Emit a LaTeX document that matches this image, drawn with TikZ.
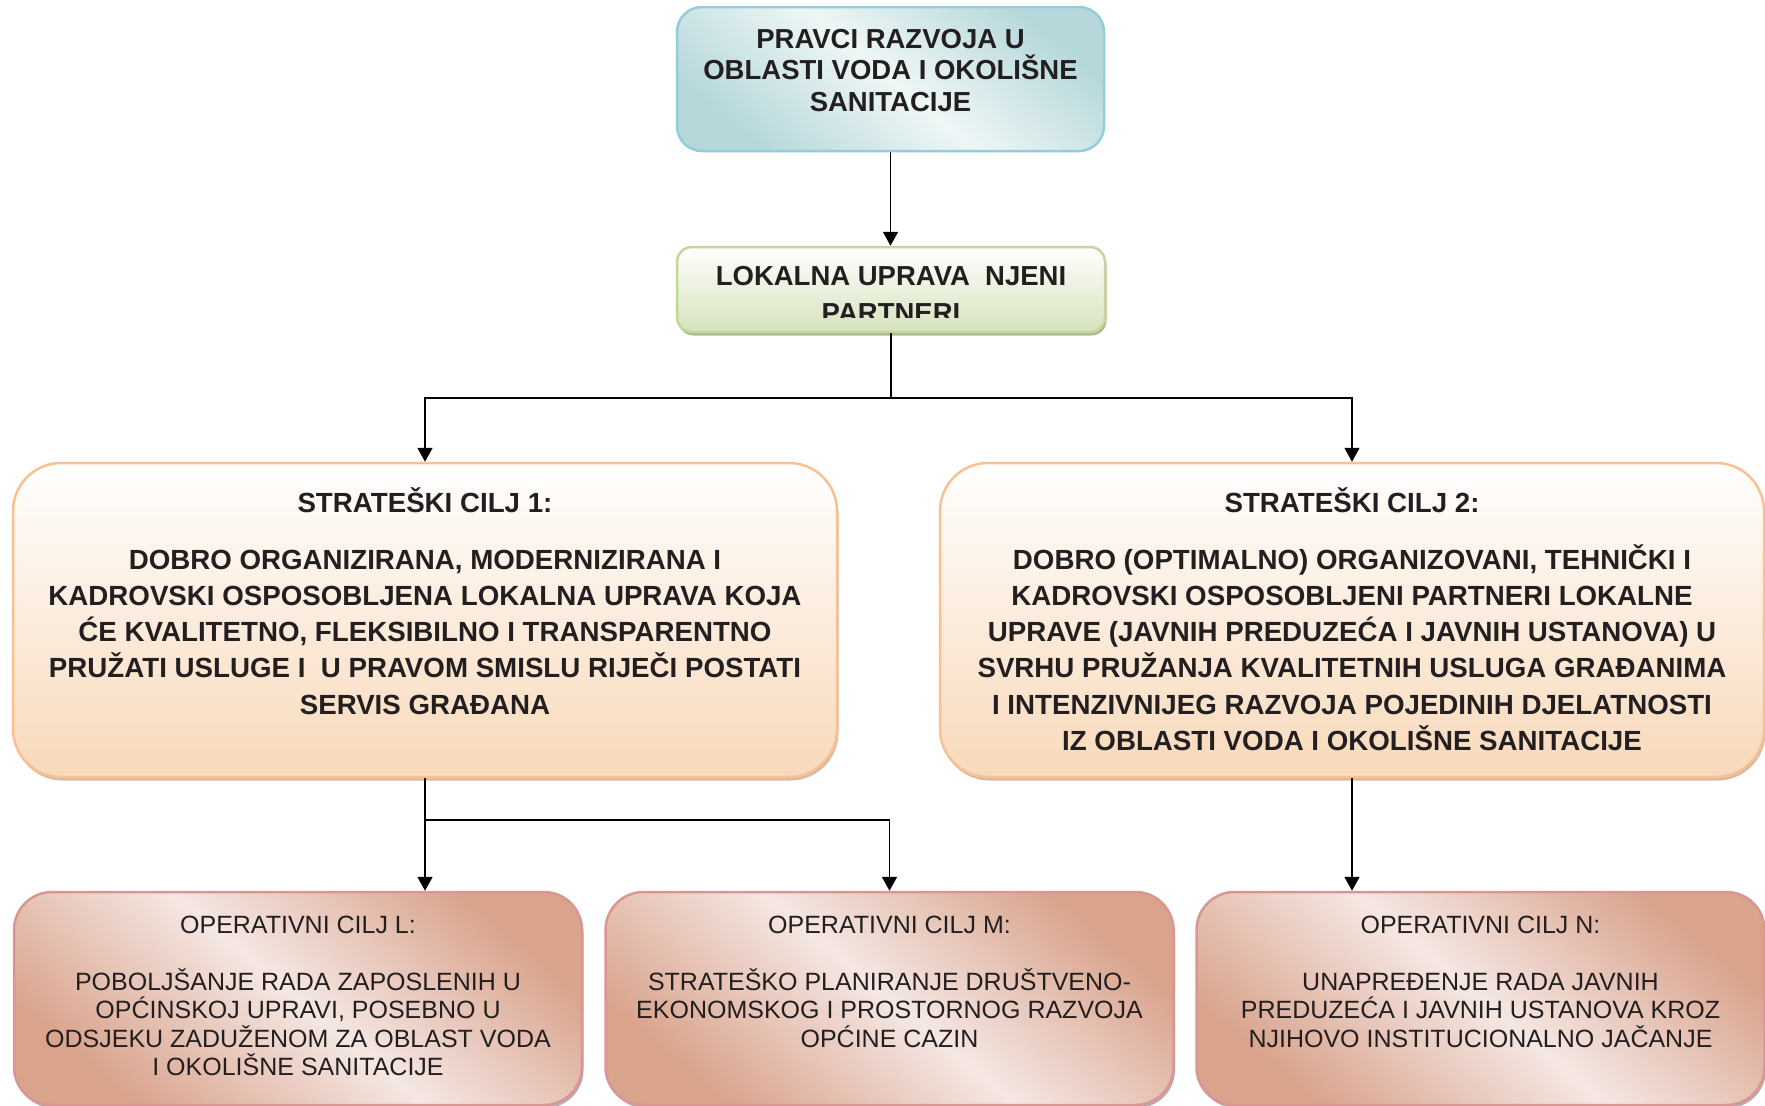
\documentclass[tikz,border=0pt]{standalone}
\usepackage{fontspec}
\setmainfont{Liberation Sans}
\usepackage{tikz}
\usetikzlibrary{arrows.meta,positioning,shadows}

\definecolor{tealDark}{HTML}{B6D8DB}
\definecolor{tealLight}{HTML}{EFF6F6}
\definecolor{tealLine}{HTML}{92CDDC}
\definecolor{greenBot}{HTML}{D6E3BC}
\definecolor{greenLine}{HTML}{C3D69B}
\definecolor{greenShadow}{HTML}{97A673}
\definecolor{peachBot}{HTML}{F8D9BA}
\definecolor{peachLine}{HTML}{FAC090}
\definecolor{peachShadow}{HTML}{BFA080}
\definecolor{roseDark}{HTML}{D9A38C}
\definecolor{roseLight}{HTML}{F5E7E3}
\definecolor{roseLine}{HTML}{D99694}
\definecolor{roseShadow}{HTML}{A08686}
\definecolor{txt}{HTML}{231F20}

\tikzset{
  pravcibox/.style={draw=tealLine, line width=2.5pt, rounded corners=25pt, inner sep=0pt,
    left color=tealDark, right color=tealDark, middle color=tealLight, shading angle=-40},
  lokalnabox/.style={draw=greenLine, line width=2.5pt, rounded corners=15pt, inner sep=0pt,
    top color=white, bottom color=greenBot,
    drop shadow={shadow xshift=1.5pt, shadow yshift=-3.5pt, fill=greenShadow, opacity=0.8}},
  ciljbox/.style={draw=peachLine, line width=2.5pt, rounded corners=48pt, inner sep=0pt,
    top color=white, bottom color=peachBot, minimum width=824pt, minimum height=314pt,
    drop shadow={shadow xshift=1.5pt, shadow yshift=-3.5pt, fill=peachShadow, opacity=0.7}},
  opbox/.style={draw=roseLine, line width=2.5pt, rounded corners=38pt, inner sep=0pt,
    left color=roseDark, right color=roseDark, middle color=roseLight, shading angle=-40,
    minimum width=568pt, minimum height=213pt,
    drop shadow={shadow xshift=1.5pt, shadow yshift=-3pt, fill=roseShadow, opacity=0.7}},
  % texts are placed by the baseline of their last line
  headtext/.style={text=txt, align=center, anchor=base, inner sep=0pt,
    font=\bfseries\fontsize{27.5pt}{31.5pt}\selectfont},
  cilitext/.style={text=txt, align=center, anchor=base, inner sep=0pt,
    font=\bfseries\fontsize{27.7pt}{36.3pt}\selectfont},
  optext/.style={text=txt, align=center, anchor=base, inner sep=0pt,
    font=\fontsize{25pt}{28.5pt}\selectfont},
  conn/.style={line width=1.8pt, >={Triangle[length=14pt,width=15pt]}}
}

\begin{document}
\begin{tikzpicture}[x=1pt,y=-1pt]
  \useasboundingbox (0,0) rectangle (1765,1106);

  % boxes
  \node[pravcibox, minimum width=427pt, minimum height=144pt] (pravci) at (890.5,79) {};
  \node[lokalnabox, minimum width=428pt, minimum height=85pt] (lokalna) at (891,289.5) {};

  \node[ciljbox] (cilj1) at (425,620) {};
  \node[ciljbox] (cilj2) at (1352,620) {};

  \node[opbox] (opL) at (298,998.5) {};
  \node[opbox] (opM) at (889.5,998.5) {};
  \node[opbox] (opN) at (1480.5,998.5) {};

  % texts
  \node[headtext] (pravciT) at (890.5,111) {PRAVCI RAZVOJA U\\OBLASTI VODA I OKOLIŠNE\\SANITACIJE};
  \begin{scope}
    \clip (677,247) rectangle (1105,317.5);
    \node[headtext, font=\bfseries\fontsize{27.5pt}{37pt}\selectfont] (lokalnaT) at (891,322) {LOKALNA UPRAVA\ \ NJENI\\PARTNERI};
  \end{scope}

  \node[cilitext] (cilj1T) at (425,714.2) {STRATEŠKI CILJ 1:\\[20.7pt]
    DOBRO ORGANIZIRANA, MODERNIZIRANA I\\
    KADROVSKI OSPOSOBLJENA LOKALNA UPRAVA KOJA\\
    ĆE KVALITETNO, FLEKSIBILNO I TRANSPARENTNO\\
    PRUŽATI USLUGE I\ \ U PRAVOM SMISLU RIJEČI POSTATI\\
    SERVIS GRAĐANA};
  \node[cilitext] (cilj2T) at (1352,750.5) {STRATEŠKI CILJ 2:\\[20.7pt]
    DOBRO (OPTIMALNO) ORGANIZOVANI, TEHNIČKI I\\
    KADROVSKI OSPOSOBLJENI PARTNERI LOKALNE\\
    UPRAVE (JAVNIH PREDUZEĆA I JAVNIH USTANOVA) U\\
    SVRHU PRUŽANJA KVALITETNIH USLUGA GRAĐANIMA\\
    I INTENZIVNIJEG RAZVOJA POJEDINIH DJELATNOSTI\\
    IZ OBLASTI VODA I OKOLIŠNE SANITACIJE};

  \node[optext] (opLT) at (298,1075.5) {OPERATIVNI CILJ L:\\[28.5pt]
    POBOLJŠANJE RADA ZAPOSLENIH U\\
    OPĆINSKOJ UPRAVI, POSEBNO U\\
    ODSJEKU ZADUŽENOM ZA OBLAST VODA\\
    I OKOLIŠNE SANITACIJE};
  \node[optext] (opMT) at (889.5,1047) {OPERATIVNI CILJ M:\\[28.5pt]
    STRATEŠKO PLANIRANJE DRUŠTVENO-\\
    EKONOMSKOG I PROSTORNOG RAZVOJA\\
    OPĆINE CAZIN};
  \node[optext] (opNT) at (1480.5,1047) {OPERATIVNI CILJ N:\\[28.5pt]
    UNAPREĐENJE RADA JAVNIH\\
    PREDUZEĆA I JAVNIH USTANOVA KROZ\\
    NJIHOVO INSTITUCIONALNO JAČANJE};

  % connectors
  \draw[conn,->] (pravci.south) -- (pravci.south |- lokalna.north);
  \draw[conn] (lokalna.south) -- ++(0,65) coordinate (split);
  \draw[conn,->] (split) -| (cilj1.north);
  \draw[conn,->] (split) -| (cilj2.north);

  \draw[conn,->] (cilj1.south) -- (cilj1.south |- opL.north);
  \draw[conn] (cilj1.south) -- ++(0,42) coordinate (split1);
  \draw[conn,->] (split1) -| (opM.north);
  \draw[conn,->] (cilj2.south) -- (cilj2.south |- opN.north);
\end{tikzpicture}
\end{document}
